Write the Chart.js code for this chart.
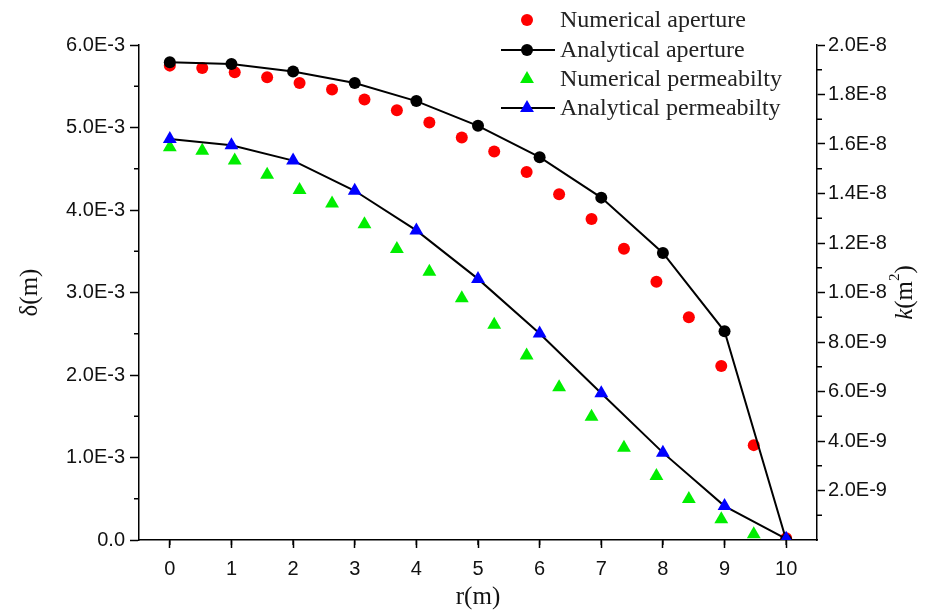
<!DOCTYPE html>
<html>
<head>
<meta charset="utf-8">
<script src="https://cdn.jsdelivr.net/npm/chart.js@4.4.0/dist/chart.umd.min.js"></script>
<style>
    body { margin: 0; background: #fff; }
    #wrap { width: 925px; height: 612px; }
</style>
</head>
<body>
<div id="wrap"><canvas id="myChart"></canvas></div>
<script>
// r (m) positions
var rAnalytical = [0, 1, 2, 3, 4, 5, 6, 7, 8, 9, 10];
var rNumerical = [0, 0.526, 1.053, 1.579, 2.105, 2.632, 3.158, 3.684, 4.211, 4.737,
                  5.263, 5.789, 6.316, 6.842, 7.368, 7.895, 8.421, 8.947, 9.474, 10];

// aperture delta (m)
var apertureAnalytical = [5.79e-3, 5.77e-3, 5.68e-3, 5.54e-3, 5.32e-3, 5.02e-3,
                          4.64e-3, 4.15e-3, 3.48e-3, 2.53e-3, 0];
var apertureNumerical = [5.75e-3, 5.72e-3, 5.67e-3, 5.61e-3, 5.54e-3, 5.46e-3, 5.34e-3,
                         5.21e-3, 5.06e-3, 4.88e-3, 4.71e-3, 4.46e-3, 4.19e-3, 3.89e-3,
                         3.53e-3, 3.13e-3, 2.70e-3, 2.11e-3, 1.15e-3, 0.02e-3];

// permeability k (m^2)
var permAnalytical = [16.2e-9, 15.95e-9, 15.33e-9, 14.11e-9, 12.51e-9, 10.55e-9,
                      8.34e-9, 5.93e-9, 3.53e-9, 1.37e-9, 0.05e-9];
var permNumerical = [15.87e-9, 15.73e-9, 15.33e-9, 14.76e-9, 14.14e-9, 13.60e-9, 12.76e-9,
                     11.76e-9, 10.84e-9, 9.77e-9, 8.70e-9, 7.45e-9, 6.17e-9, 4.98e-9,
                     3.73e-9, 2.59e-9, 1.66e-9, 0.84e-9, 0.23e-9, 0];

// axis ticks
var xTicks = [0, 1, 2, 3, 4, 5, 6, 7, 8, 9, 10];
var yTicks = [0, 1e-3, 2e-3, 3e-3, 4e-3, 5e-3, 6e-3];
var yTickLabels = ['0.0', '1.0E-3', '2.0E-3', '3.0E-3', '4.0E-3', '5.0E-3', '6.0E-3'];
var kTicks = [2e-9, 4e-9, 6e-9, 8e-9, 1e-8, 1.2e-8, 1.4e-8, 1.6e-8, 1.8e-8, 2e-8];
var kTickLabels = ['2.0E-9', '4.0E-9', '6.0E-9', '8.0E-9', '1.0E-8', '1.2E-8',
                   '1.4E-8', '1.6E-8', '1.8E-8', '2.0E-8'];

var legendLabels = ['Numerical aperture', 'Analytical aperture',
                    'Numerical permeabilty', 'Analytical permeabilty'];

function pts(xs, ys) {
    return xs.map(function(x, i) { return { x: x, y: ys[i] }; });
}

var serif = '"Liberation Serif", "Times New Roman", serif';
var sans = '"Liberation Sans", Arial, sans-serif';

// minor ticks, half way between major ones
var minorTicks = {
    id: 'minorTicks',
    afterDraw: function(chart) {
        var ctx = chart.ctx, a = chart.chartArea;
        ctx.save();
        ctx.strokeStyle = '#000';
        ctx.lineWidth = 1.5;
        var defs = [['x', 0.5, 1], ['y', 0.5e-3, 1e-3], ['y1', 1e-9, 2e-9]];
        defs.forEach(function(d) {
            var s = chart.scales[d[0]];
            for (var v = s.min + d[1]; v < s.max - d[1] / 10; v += d[2]) {
                var p = s.getPixelForValue(v);
                ctx.beginPath();
                if (d[0] === 'x') { ctx.moveTo(p, a.bottom); ctx.lineTo(p, a.bottom + 5); }
                else if (d[0] === 'y') { ctx.moveTo(a.left, p); ctx.lineTo(a.left - 5, p); }
                else { ctx.moveTo(a.right, p); ctx.lineTo(a.right + 5, p); }
                ctx.stroke();
            }
        });
        ctx.restore();
    }
};

// axis titles
var axisTitles = {
    id: 'axisTitles',
    afterDraw: function(chart) {
        var ctx = chart.ctx, a = chart.chartArea;
        var midY = (a.top + a.bottom) / 2;
        ctx.save();
        ctx.fillStyle = '#111';
        ctx.textBaseline = 'middle';
        ctx.textAlign = 'center';
        ctx.font = '25px ' + serif;
        ctx.fillText('r(m)', (a.left + a.right) / 2, 597);

        ctx.save();
        ctx.translate(30, midY);
        ctx.rotate(-Math.PI / 2);
        ctx.fillText('δ(m)', 0, 0);
        ctx.restore();

        // k(m^2), italic k with superscript
        ctx.save();
        ctx.translate(905, midY);
        ctx.rotate(-Math.PI / 2);
        ctx.textAlign = 'left';
        var parts = [['italic 25px ' + serif, 'k', 0], ['25px ' + serif, '(m', 0],
                     ['15px ' + serif, '2', -10], ['25px ' + serif, ')', 0]];
        var w = 0;
        parts.forEach(function(p) { ctx.font = p[0]; w += ctx.measureText(p[1]).width; });
        var x = -w / 2;
        parts.forEach(function(p) {
            ctx.font = p[0];
            ctx.fillText(p[1], x, p[2]);
            x += ctx.measureText(p[1]).width;
        });
        ctx.restore();
        ctx.restore();
    }
};

// legend in top right corner
var cornerLegend = {
    id: 'cornerLegend',
    afterDraw: function(chart) {
        var ctx = chart.ctx;
        var markX = 527, textX = 560, rowY = [20, 50, 79, 108];
        ctx.save();
        chart.data.datasets.forEach(function(ds, i) {
            var y = rowY[i];
            if (ds.showLine) {
                ctx.strokeStyle = ds.borderColor;
                ctx.lineWidth = 2;
                ctx.beginPath();
                ctx.moveTo(501, y); ctx.lineTo(555, y);
                ctx.stroke();
            }
            ctx.fillStyle = ds.pointBackgroundColor;
            ctx.beginPath();
            if (ds.pointStyle === 'triangle') {
                var r = ds.pointRadius;
                ctx.moveTo(markX, y - r);
                ctx.lineTo(markX + r * 0.866, y + r * 0.5);
                ctx.lineTo(markX - r * 0.866, y + r * 0.5);
                ctx.closePath();
            } else {
                ctx.arc(markX, y, ds.pointRadius, 0, Math.PI * 2);
            }
            ctx.fill();
            ctx.fillStyle = '#222';
            ctx.font = '24px ' + serif;
            ctx.textAlign = 'left';
            ctx.textBaseline = 'middle';
            ctx.fillText(legendLabels[i], textX, y + 1);
        });
        ctx.restore();
    }
};

var ctx = document.getElementById('myChart');
var myChart = new Chart(ctx, {
    type: 'scatter',
    data: {
        datasets: [{
            label: legendLabels[0],
            data: pts(rNumerical, apertureNumerical),
            yAxisID: 'y',
            pointStyle: 'circle',
            pointRadius: 6,
            pointBackgroundColor: '#ff0000',
            pointBorderWidth: 0,
            borderColor: '#ff0000',
            showLine: false,
            order: 4
        }, {
            label: legendLabels[1],
            data: pts(rAnalytical, apertureAnalytical),
            yAxisID: 'y',
            pointStyle: 'circle',
            pointRadius: 6,
            pointBackgroundColor: '#000000',
            pointBorderWidth: 0,
            borderColor: '#000000',
            borderWidth: 2,
            showLine: true,
            order: 2
        }, {
            label: legendLabels[2],
            data: pts(rNumerical, permNumerical),
            yAxisID: 'y1',
            pointStyle: 'triangle',
            pointRadius: 8,
            pointBackgroundColor: '#00ee00',
            pointBorderWidth: 0,
            borderColor: '#00ee00',
            showLine: false,
            order: 3
        }, {
            label: legendLabels[3],
            data: pts(rAnalytical, permAnalytical),
            yAxisID: 'y1',
            pointStyle: 'triangle',
            pointRadius: 8,
            pointBackgroundColor: '#0000ff',
            pointBorderWidth: 0,
            borderColor: '#000000',
            borderWidth: 2,
            showLine: true,
            order: 1
        }]
    },
    options: {
        responsive: true,
        maintainAspectRatio: false,
        animation: false,
        layout: { padding: { top: 45 } },
        plugins: {
            legend: { display: false },
            tooltip: { enabled: false }
        },
        elements: { line: { tension: 0 } },
        scales: {
            x: {
                type: 'linear',
                min: -0.5,
                max: 10.5,
                afterBuildTicks: function(s) { s.ticks = xTicks.map(function(v) { return { value: v }; }); },
                afterFit: function(s) { s.height = 72; },
                grid: { drawOnChartArea: false, tickLength: 8, tickColor: '#000', tickWidth: 1.5 },
                border: { color: '#000', width: 1.5 },
                ticks: { color: '#111', font: { family: sans, size: 20 }, padding: 9, maxRotation: 0 }
            },
            y: {
                position: 'left',
                min: 0,
                max: 6e-3,
                afterBuildTicks: function(s) { s.ticks = yTicks.map(function(v) { return { value: v }; }); },
                afterFit: function(s) { s.width = 139; },
                grid: { drawOnChartArea: false, tickLength: 9, tickColor: '#000', tickWidth: 1.5 },
                border: { color: '#000', width: 1.5 },
                ticks: {
                    color: '#111', font: { family: sans, size: 20 }, padding: 5,
                    callback: function(v) { return yTickLabels[yTicks.indexOf(v)]; }
                }
            },
            y1: {
                position: 'right',
                min: 0,
                max: 2e-8,
                afterBuildTicks: function(s) { s.ticks = kTicks.map(function(v) { return { value: v }; }); },
                afterFit: function(s) { s.width = 108; },
                grid: { drawOnChartArea: false, tickLength: 8, tickColor: '#000', tickWidth: 1.5 },
                border: { color: '#000', width: 1.5 },
                ticks: {
                    color: '#111', font: { family: sans, size: 20 }, padding: 3,
                    callback: function(v) {
                        var i = kTicks.findIndex(function(t) { return Math.abs(t - v) < 1e-12; });
                        return i < 0 ? '' : kTickLabels[i];
                    }
                }
            }
        }
    },
    plugins: [minorTicks, axisTitles, cornerLegend]
});
</script>
</body>
</html>
